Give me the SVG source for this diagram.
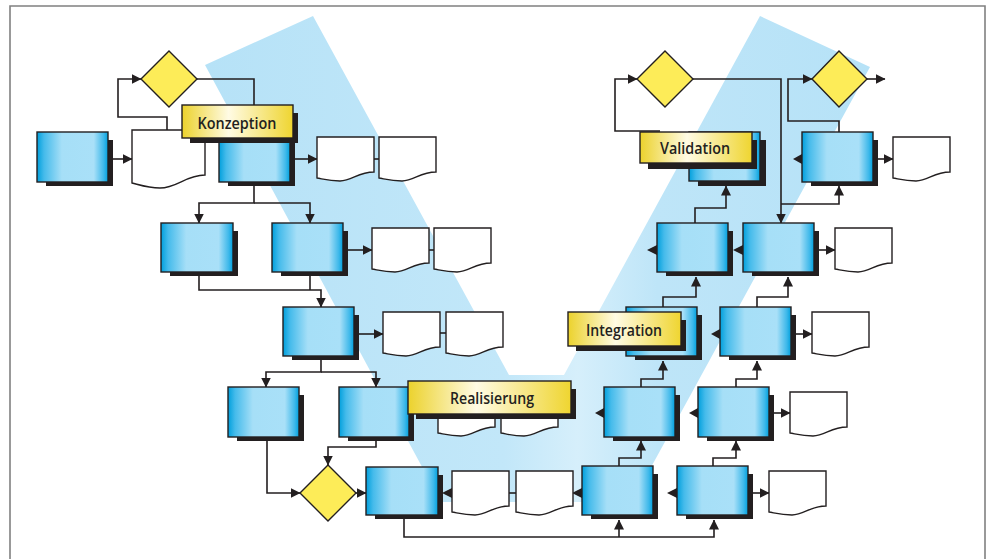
<svg xmlns="http://www.w3.org/2000/svg" xmlns:xlink="http://www.w3.org/1999/xlink" width="989" height="559" viewBox="0 0 989 559">
<style>
.ln{fill:none;stroke:#231f20;stroke-width:1.6}
.ar{marker-end:url(#ah)}
.sh{fill:#231f20}
.bx{fill:url(#gb);stroke:#231f20;stroke-width:1.4}
.lb{fill:url(#gy);stroke:#231f20;stroke-width:1.4}
.dc{fill:#fff;stroke:#231f20;stroke-width:1.4}
.dm{fill:#fdec58;stroke:#231f20;stroke-width:1.4}
.ah{fill:#231f20}
.tx{font-family:"Open Sans","Noto Sans",sans-serif;font-size:17px;font-weight:600;fill:#231f20;text-anchor:middle}
</style>
<defs>
<linearGradient id="gb" x1="0" y1="0" x2="1" y2="0">
<stop offset="0" stop-color="#009fdc"/>
<stop offset="0.1" stop-color="#45bbeb"/>
<stop offset="0.35" stop-color="#a6dff7"/>
<stop offset="0.8" stop-color="#a9e0f8"/>
<stop offset="0.94" stop-color="#3db8ea"/>
<stop offset="1" stop-color="#00a0dd"/>
</linearGradient>
<linearGradient id="gy" x1="0" y1="0" x2="1" y2="0">
<stop offset="0" stop-color="#ecd22c"/>
<stop offset="0.42" stop-color="#fffbe4"/>
<stop offset="1" stop-color="#efd530"/>
</linearGradient>
<linearGradient id="gv" gradientUnits="userSpaceOnUse" x1="205" y1="0" x2="870" y2="0">
<stop offset="0" stop-color="#b6e2f7"/>
<stop offset="0.45" stop-color="#c2e7f9"/>
<stop offset="0.56" stop-color="#d6effb"/>
<stop offset="0.68" stop-color="#bee5f8"/>
<stop offset="1" stop-color="#b6e2f7"/>
</linearGradient>
<marker id="ah" viewBox="0 0 10 10" refX="9.5" refY="5" markerWidth="10" markerHeight="10" markerUnits="userSpaceOnUse" orient="auto">
<path d="M0,0 L10,5 L0,10 z" fill="#231f20"/>
</marker>
<path id="doc" d="M0,0 H57 V35 C41,35 35,44 23,44 C12,44 6,42 0,41 Z"/>
</defs>
<rect x="0" y="0" width="989" height="559" fill="#fff"/>
<polygon id="v-band" points="205,65 313,16 509,375 564,375 760,16 870,67 632,502 441,502" fill="url(#gv)"/>
<path id="frame" d="M10,559 V6 H985 V559" fill="none" stroke="#808080" stroke-width="1.6"/>

<g id="connectors">
<path class="ln ar" d="M113,159 H132"/>
<path class="ln ar" d="M295,159 H317"/>
<path class="ln" d="M373,159 H379"/>
<path class="ln ar" d="M167,130 V117 H118 V79 H141"/>
<path class="ln ar" d="M197,79 H254 V132"/>
<path class="ln ar" d="M254,182 V203 H199 V223"/>
<path class="ln ar" d="M254,203 H310 V223"/>
<path class="ln ar" d="M348,250 H372"/>
<path class="ln" d="M428,250 H434"/>
<path class="ln ar" d="M199,272 V290 H321 V307"/>
<path class="ln" d="M310,272 V290"/>
<path class="ln ar" d="M359,334 H383"/>
<path class="ln" d="M439,333 H446"/>
<path class="ln ar" d="M321,356 V372 H266 V387"/>
<path class="ln ar" d="M321,372 H376 V387"/>
<path class="ln ar" d="M267,437 V493 H300"/>
<path class="ln ar" d="M376,437 V447 H328 V465"/>
<path class="ln ar" d="M356,493 H366"/>
<path class="ln" d="M509,493 H516"/>
<path class="ln ar" d="M404,515 V537 H714 V520"/>
<path class="ln ar" d="M619,537 V520"/>
<path class="ln ar" d="M619,466 V458 H641 V441"/>
<path class="ln ar" d="M713,466 V458 H736 V441"/>
<path class="ln ar" d="M641,387 V379 H663 V361"/>
<path class="ln ar" d="M736,387 V379 H757 V361"/>
<path class="ln ar" d="M663,307 V297 H696 V277"/>
<path class="ln ar" d="M757,307 V297 H788 V277"/>
<path class="ln ar" d="M695,223 V208 H726 V186"/>
<path class="ln ar" d="M693,79 H781 V223"/>
<path class="ln ar" d="M781,204 H839 V186"/>
<path class="ln ar" d="M660,131 H615 V79 H637"/>
<path class="ln ar" d="M839,132 V121 H788 V79 H812"/>
<path class="ln ar" d="M867,79 H885"/>
<path class="ln ar" d="M753,493 H769"/>
<path class="ln ar" d="M774,413 H790"/>
<path class="ln ar" d="M796,334 H812"/>
<path class="ln ar" d="M819,250 H835"/>
<path class="ln ar" d="M878,159 H893"/>
<polygon class="ah" points="442,493 452,488 452,498"/>
<polygon class="ah" points="572,493 582,488 582,498"/>
<polygon class="ah" points="667,493 677,488 677,498"/>
<polygon class="ah" points="595,413 604,408 604,418"/>
<polygon class="ah" points="689,413 698,408 698,418"/>
<polygon class="ah" points="711,334 720,329 720,339"/>
<polygon class="ah" points="647,250 657,245 657,255"/>
<polygon class="ah" points="733,250 743,245 743,255"/>
<polygon class="ah" points="793,159 802,154 802,164"/>
</g>

<g id="documents">
<path id="doc-1" class="dc" d="M132,130 H205 V175 C186,175 177,188 160,188 C148,188 140,185 132,183 Z"/>
<use id="doc-2" class="dc" href="#doc" x="317" y="137"/>
<use id="doc-3" class="dc" href="#doc" x="379" y="137"/>
<use id="doc-4" class="dc" href="#doc" x="372" y="228"/>
<use id="doc-5" class="dc" href="#doc" x="434" y="228"/>
<use id="doc-6" class="dc" href="#doc" x="383" y="312"/>
<use id="doc-7" class="dc" href="#doc" x="446" y="312"/>
<use id="doc-8" class="dc" href="#doc" x="438" y="392"/>
<use id="doc-9" class="dc" href="#doc" x="501" y="392"/>
<use id="doc-10" class="dc" href="#doc" x="452" y="471"/>
<use id="doc-11" class="dc" href="#doc" x="516" y="471"/>
<use id="doc-12" class="dc" href="#doc" x="769" y="471"/>
<use id="doc-13" class="dc" href="#doc" x="790" y="392"/>
<use id="doc-14" class="dc" href="#doc" x="812" y="312"/>
<use id="doc-15" class="dc" href="#doc" x="835" y="228"/>
<use id="doc-16" class="dc" href="#doc" x="893" y="137"/>
</g>

<g id="decisions">
<polygon id="dec-1" class="dm" points="169,51 197,79 169,107 141,79"/>
<polygon id="dec-2" class="dm" points="328,465 356,493 328,521 300,493"/>
<polygon id="dec-3" class="dm" points="665,51 693,79 665,107 637,79"/>
<polygon id="dec-4" class="dm" points="839,51 867,79 839,107 812,79"/>
</g>

<g id="box-A"><rect class="sh" x="46" y="140" width="67" height="46"/><rect class="bx" x="37" y="132" width="71" height="50"/></g>
<g id="box-B"><rect class="sh" x="228" y="140" width="67" height="46"/><rect class="bx" x="219" y="132" width="71" height="50"/></g>
<g id="box-C"><rect class="sh" x="170" y="231" width="68" height="45"/><rect class="bx" x="161" y="223" width="72" height="49"/></g>
<g id="box-D"><rect class="sh" x="281" y="231" width="67" height="45"/><rect class="bx" x="272" y="223" width="71" height="49"/></g>
<g id="box-E"><rect class="sh" x="292" y="315" width="67" height="45"/><rect class="bx" x="283" y="307" width="71" height="49"/></g>
<g id="box-F"><rect class="sh" x="237" y="395" width="67" height="46"/><rect class="bx" x="228" y="387" width="71" height="50"/></g>
<g id="box-G"><rect class="sh" x="348" y="395" width="66" height="46"/><rect class="bx" x="339" y="387" width="70" height="50"/></g>
<g id="box-H"><rect class="sh" x="375" y="475" width="68" height="44"/><rect class="bx" x="366" y="467" width="72" height="48"/></g>
<g id="box-I"><rect class="sh" x="591" y="474" width="67" height="45"/><rect class="bx" x="582" y="466" width="71" height="49"/></g>
<g id="box-J"><rect class="sh" x="686" y="474" width="67" height="45"/><rect class="bx" x="677" y="466" width="71" height="49"/></g>
<g id="box-K"><rect class="sh" x="613" y="395" width="67" height="46"/><rect class="bx" x="604" y="387" width="71" height="50"/></g>
<g id="box-L"><rect class="sh" x="707" y="395" width="67" height="46"/><rect class="bx" x="698" y="387" width="71" height="50"/></g>
<g id="box-Int"><rect class="sh" x="635" y="315" width="67" height="45"/><rect class="bx" x="626" y="307" width="71" height="49"/></g>
<g id="box-P"><rect class="sh" x="729" y="315" width="67" height="45"/><rect class="bx" x="720" y="307" width="71" height="49"/></g>
<g id="box-M"><rect class="sh" x="666" y="231" width="67" height="45"/><rect class="bx" x="657" y="223" width="71" height="49"/></g>
<g id="box-N"><rect class="sh" x="752" y="231" width="67" height="45"/><rect class="bx" x="743" y="223" width="71" height="49"/></g>
<g id="box-Val"><rect class="sh" x="698" y="140" width="68" height="46"/><rect class="bx" x="689" y="132" width="71" height="49"/></g>
<g id="box-O"><rect class="sh" x="811" y="140" width="67" height="46"/><rect class="bx" x="802" y="132" width="71" height="50"/></g>

<g id="label-konzeption"><rect class="sh" x="190" y="113" width="108" height="30"/><rect class="lb" x="182" y="105" width="111" height="33"/><text class="tx" x="237" y="129" textLength="79" lengthAdjust="spacingAndGlyphs">Konzeption</text></g>
<g id="label-realisierung"><rect class="sh" x="416" y="389" width="160" height="30"/><rect class="lb" x="408" y="381" width="163" height="33"/><text class="tx" x="492" y="404" textLength="84" lengthAdjust="spacingAndGlyphs">Realisierung</text></g>
<g id="label-integration"><rect class="sh" x="576" y="320" width="110" height="31"/><rect class="lb" x="568" y="312" width="113" height="34"/><text class="tx" x="624" y="336" textLength="76" lengthAdjust="spacingAndGlyphs">Integration</text></g>
<g id="label-validation"><rect class="sh" x="648" y="140" width="109" height="29"/><rect class="lb" x="640" y="132" width="112" height="31"/><text class="tx" x="695" y="154" textLength="70" lengthAdjust="spacingAndGlyphs">Validation</text></g>
</svg>
